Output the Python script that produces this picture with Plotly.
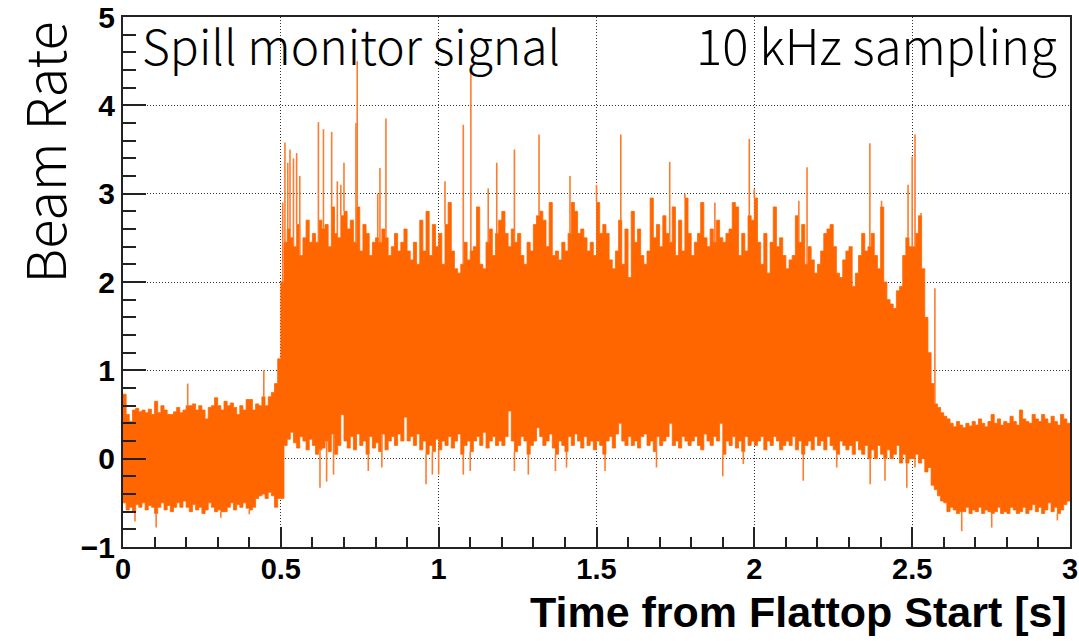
import plotly.graph_objects as go

# ---- data (0.01 s bins, envelope of the 10 kHz signal) ----
bin_width = 0.01
upper = [
    0.73, 0.50, 0.42, 0.55, 0.57, 0.53, 0.55, 0.52, 0.56, 0.50,
    0.65, 0.52, 0.60, 0.55, 0.50, 0.50, 0.53, 0.58, 0.52, 0.55,
    0.60, 0.60, 0.62, 0.55, 0.60, 0.55, 0.45, 0.58, 0.60, 0.69,
    0.60, 0.55, 0.65, 0.60, 0.63, 0.58, 0.50, 0.60, 0.55, 0.67,
    0.67, 0.55, 0.62, 0.60, 0.70, 0.60, 0.70, 0.75, 0.85, 1.13,
    2.00, 2.45, 2.60, 2.50, 2.40, 2.65, 2.30, 2.50, 2.70, 2.45,
    2.55, 2.45, 2.70, 2.60, 2.65, 2.40, 2.85, 2.55, 2.50, 2.75,
    2.80, 2.60, 2.70, 2.45, 2.85, 2.35, 2.65, 2.55, 2.30, 2.45,
    2.50, 2.45, 2.60, 2.50, 2.30, 2.40, 2.55, 2.35, 2.45, 2.60,
    2.35, 2.25, 2.45, 2.20, 2.70, 2.35, 2.80, 2.30, 2.65, 2.40,
    2.55, 2.20, 2.65, 2.90, 2.35, 2.15, 2.10, 2.20, 2.45, 2.25,
    2.35, 2.40, 2.85, 2.20, 2.15, 2.45, 2.60, 2.30, 2.55, 2.70,
    2.80, 2.55, 2.40, 2.60, 2.45, 2.55, 2.30, 2.20, 2.45, 2.35,
    2.65, 2.75, 2.80, 2.70, 2.40, 2.90, 2.30, 2.35, 2.25, 2.45,
    2.35, 2.55, 2.90, 2.80, 2.55, 2.60, 2.50, 2.35, 2.45, 2.30,
    2.90, 2.55, 2.65, 2.55, 2.25, 2.15, 2.35, 2.70, 2.20, 2.60,
    2.05, 2.80, 2.45, 2.60, 2.30, 2.20, 2.35, 2.95, 2.50, 2.65,
    2.40, 2.75, 2.55, 2.45, 2.85, 2.30, 2.70, 2.35, 2.95, 2.55,
    2.30, 2.45, 2.55, 2.90, 2.50, 2.40, 2.60, 2.45, 2.70, 2.50,
    2.45, 2.55, 2.60, 2.90, 2.85, 2.30, 2.55, 2.35, 2.75, 2.70,
    2.95, 2.45, 2.20, 2.55, 2.10, 2.45, 2.85, 2.40, 2.50, 2.30,
    2.15, 2.25, 2.30, 2.75, 2.45, 2.65, 2.20, 2.40, 2.25, 2.10,
    2.20, 2.35, 2.55, 2.60, 2.65, 2.40, 2.10, 2.05, 2.25, 2.35,
    2.40, 1.95, 2.10, 2.30, 2.55, 2.35, 2.40, 2.55, 2.30, 2.15,
    2.85, 2.00, 1.80, 1.75, 1.70, 1.90, 1.95, 2.30, 2.50, 2.40,
    2.40, 2.55, 2.75, 2.15, 1.60, 1.20, 0.85, 0.62, 0.58, 0.52,
    0.48, 0.45, 0.40, 0.36, 0.42, 0.38, 0.35, 0.40, 0.37, 0.42,
    0.38, 0.45, 0.40, 0.36, 0.42, 0.50, 0.40, 0.45, 0.38, 0.42,
    0.40, 0.48, 0.42, 0.38, 0.55, 0.45, 0.42, 0.40, 0.50, 0.45,
    0.42, 0.50, 0.45, 0.40, 0.48, 0.42, 0.38, 0.50, 0.45, 0.40,
]
lower = [
    -0.50, -0.58, -0.55, -0.60, -0.52, -0.55, -0.50, -0.58, -0.53, -0.55,
    -0.62, -0.55, -0.50, -0.58, -0.53, -0.60, -0.55, -0.50, -0.55, -0.48,
    -0.55, -0.60, -0.52, -0.58, -0.55, -0.62, -0.58, -0.50, -0.55, -0.60,
    -0.58, -0.60, -0.60, -0.55, -0.50, -0.58, -0.52, -0.55, -0.50, -0.56,
    -0.58, -0.55, -0.45, -0.42, -0.40, -0.45, -0.38, -0.42, -0.55, -0.45,
    -0.45, 0.15, 0.22, 0.30, 0.18, 0.12, 0.25, 0.20, 0.10, 0.22,
    0.15, 0.05, 0.10, 0.12, 0.20, 0.08, 0.28, 0.05, 0.15, 0.50,
    0.20, 0.12, 0.25, 0.10, 0.28, 0.15, 0.20, 0.05, 0.25, 0.12,
    0.18, 0.08, 0.28, 0.10, 0.20, 0.25, 0.15, 0.28, 0.20, 0.47,
    0.20, 0.25, 0.15, 0.28, 0.10, 0.20, 0.05, 0.15, 0.08, 0.22,
    0.10, 0.20, 0.15, 0.25, 0.12, 0.20, 0.28, 0.05, 0.15, 0.20,
    0.08, 0.20, 0.25, 0.15, 0.30, 0.12, 0.20, 0.25, 0.15, 0.20,
    0.15, 0.25, 0.54, 0.20, 0.08, 0.15, 0.25, 0.20, 0.05, 0.15,
    0.20, 0.35, 0.25, 0.15, 0.20, 0.28, 0.12, 0.05, 0.20, 0.15,
    0.08, 0.25, 0.15, 0.28, 0.20, 0.12, 0.25, 0.15, 0.20, 0.10,
    0.20, 0.15, 0.05, 0.20, 0.25, 0.12, 0.28, 0.40, 0.20, 0.15,
    0.25, 0.15, 0.20, 0.12, 0.25, 0.28, 0.15, 0.20, 0.08, 0.25,
    0.15, 0.20, 0.25, 0.40, 0.15, 0.20, 0.12, 0.25, 0.20, 0.15,
    0.20, 0.25, 0.15, 0.10, 0.28, 0.20, 0.15, 0.25, 0.20, 0.40,
    0.05, 0.20, 0.15, 0.25, 0.12, 0.20, 0.08, 0.25, 0.15, 0.20,
    0.15, 0.20, 0.25, 0.10, 0.20, 0.15, 0.25, 0.20, 0.10, 0.15,
    0.20, 0.15, 0.25, 0.10, 0.20, 0.05, 0.15, 0.20, 0.10, 0.25,
    0.15, 0.20, 0.10, 0.25, 0.15, 0.10, 0.05, 0.20, 0.15, 0.10,
    0.15, 0.05, 0.20, 0.10, 0.05, 0.15, 0.00, 0.10, 0.00, 0.15,
    0.05, 0.00, 0.10, 0.00, 0.05, 0.15, -0.05, 0.05, -0.05, 0.00,
    0.00, 0.05, -0.05, 0.00, -0.15, -0.10, -0.30, -0.35, -0.42, -0.48,
    -0.50, -0.60, -0.55, -0.58, -0.62, -0.60, -0.60, -0.55, -0.62, -0.58,
    -0.60, -0.55, -0.62, -0.58, -0.60, -0.62, -0.60, -0.55, -0.62, -0.60,
    -0.62, -0.55, -0.58, -0.62, -0.60, -0.55, -0.62, -0.58, -0.52, -0.60,
    -0.55, -0.62, -0.58, -0.50, -0.60, -0.55, -0.62, -0.58, -0.52, -0.48,
]
# thin upward spikes (time [s], value)
spike_t = [0.205, 0.446, 0.506, 0.513, 0.522, 0.529, 0.540, 0.550, 0.560, 0.619,
           0.635, 0.661, 0.679, 0.690, 0.700, 0.738, 0.742, 0.807, 0.814, 0.833,
           1.020, 1.078, 1.102, 1.157, 1.184, 1.240, 1.318, 1.416, 1.500, 1.577,
           1.732, 1.780, 1.875, 1.938, 1.984, 2.000, 2.141, 2.167, 2.366, 2.403,
           2.487, 2.500, 2.509, 2.528, 2.572]
spike_v = [0.85, 1.00, 2.90, 3.58, 3.35, 3.50, 3.40, 3.46, 3.20, 3.81,
           3.73, 3.70, 3.14, 3.10, 3.35, 3.80, 4.50, 3.00, 3.29, 3.85,
           3.14, 3.78, 4.46, 3.06, 3.35, 3.50, 3.67, 3.20, 3.10, 3.67,
           3.36, 3.00, 2.90, 2.90, 3.62, 3.05, 2.92, 3.30, 3.57, 2.92,
           3.10, 3.42, 3.67, 2.78, 1.93]
# thin downward dips (time [s], value)
dip_t = [0.038, 0.105, 0.310, 0.400, 0.624, 0.645, 0.667, 0.777, 0.820, 0.960,
         0.980, 1.000, 1.078, 1.100, 1.240, 1.284, 1.370, 1.405, 1.527, 1.690,
         1.900, 1.965, 2.155, 2.261, 2.367, 2.414, 2.483, 2.509, 2.657, 2.752,
         2.960]
dip_v = [-0.71, -0.78, -0.67, -0.63, -0.33, -0.26, -0.18, -0.14, -0.10, -0.29,
         -0.18, -0.18, -0.18, -0.14, -0.14, -0.18, -0.14, -0.10, -0.14, -0.10,
         -0.20, -0.06, -0.25, -0.10, -0.29, -0.25, -0.33, -0.10, -0.82, -0.78,
         -0.70]

x_ticks = [0, 0.5, 1, 1.5, 2, 2.5, 3]
x_ticklabels = ["0", "0.5", "1", "1.5", "2", "2.5", "3"]
y_ticks = [-1, 0, 1, 2, 3, 4, 5]
y_ticklabels = ["\u22121", "0", "1", "2", "3", "4", "5"]

ORANGE = "#ff6600"
THIN = "#ff7b2e"

# ---- figure ----
n = len(upper)
xs = [i * bin_width for i in range(n)] + [n * bin_width]
fig = go.Figure()
fig.add_trace(go.Scatter(x=xs, y=lower + [lower[-1]], mode="lines",
                         line=dict(color=ORANGE, width=0.8, shape="hv"),
                         hoverinfo="skip", showlegend=False))
fig.add_trace(go.Scatter(x=xs, y=upper + [upper[-1]], mode="lines",
                         line=dict(color=ORANGE, width=0.8, shape="hv"),
                         fill="tonexty", fillcolor=ORANGE,
                         hoverinfo="skip", showlegend=False))


def segments(ts, vs, ref):
    sx, sy = [], []
    for t, v in zip(ts, vs):
        base = ref[min(int(t / bin_width), n - 1)]
        sx += [t, t, None]
        sy += [base, v, None]
    return sx, sy


for ts, vs, ref in ((spike_t, spike_v, upper), (dip_t, dip_v, lower)):
    sx, sy = segments(ts, vs, ref)
    fig.add_trace(go.Scatter(x=sx, y=sy, mode="lines",
                             line=dict(color=THIN, width=1.6),
                             hoverinfo="skip", showlegend=False))

L, R, T, B = 123, 9, 17, 94
W, H = 1079, 641
pw, ph = W - L - R, H - T - B


def px(xp):
    return (xp - L) / pw


def py(yp):
    return (H - B - yp) / ph


axis_common = dict(showline=True, linecolor="#222", linewidth=2, mirror=True,
                   showgrid=True, gridcolor="#333", gridwidth=1, griddash="1px,2px",
                   zeroline=False, ticks="inside", tickcolor="#222", tickwidth=1.5,
                   automargin=False)
tick_font = dict(family="Liberation Sans, Arial, sans-serif", color="black", weight="bold")

fig.update_xaxes(range=[0, 3], tickmode="array", tickvals=x_ticks, ticktext=x_ticklabels,
                 ticklen=20, tickfont=dict(size=29, **tick_font), ticklabelstandoff=-5,
                 minor=dict(ticks="inside", dtick=0.1, ticklen=10, tickcolor="#222",
                            tickwidth=1.5, showgrid=False),
                 **axis_common)
fig.update_yaxes(range=[-1, 5], tickmode="array", tickvals=y_ticks, ticktext=y_ticklabels,
                 ticklen=23, tickfont=dict(size=30, **tick_font),
                 minor=dict(ticks="inside", dtick=0.2, ticklen=13, tickcolor="#222",
                            tickwidth=1.5, showgrid=False),
                 **axis_common)

txt_font = dict(family="Noto Sans CJK JP, Noto Sans, sans-serif", color="black", weight=300)
fig.add_annotation(text="Spill monitor signal", xref="paper", yref="paper",
                   x=px(140), y=py(44), xanchor="left", yanchor="middle",
                   showarrow=False, font=dict(size=48, **txt_font))
fig.add_annotation(text="10 kHz sampling", xref="paper", yref="paper",
                   x=px(1059), y=py(44), xanchor="right", yanchor="middle",
                   showarrow=False, font=dict(size=49, **txt_font))
fig.add_annotation(text="Beam Rate", xref="paper", yref="paper",
                   x=px(1), y=py(153), xanchor="left", yanchor="middle",
                   textangle=-90, showarrow=False, borderpad=0,
                   font=dict(size=54, **txt_font))
fig.add_annotation(text="Time from Flattop Start [s]", xref="paper", yref="paper",
                   x=px(1069), y=py(612), xanchor="right", yanchor="middle",
                   showarrow=False,
                   font=dict(family="Liberation Sans, Arial, sans-serif", size=43,
                             color="black", weight="bold"))

fig.update_layout(width=W, height=H, margin=dict(l=L, r=R, t=T, b=B),
                  paper_bgcolor="white", plot_bgcolor="white", showlegend=False)

fig.write_html("out.html")
